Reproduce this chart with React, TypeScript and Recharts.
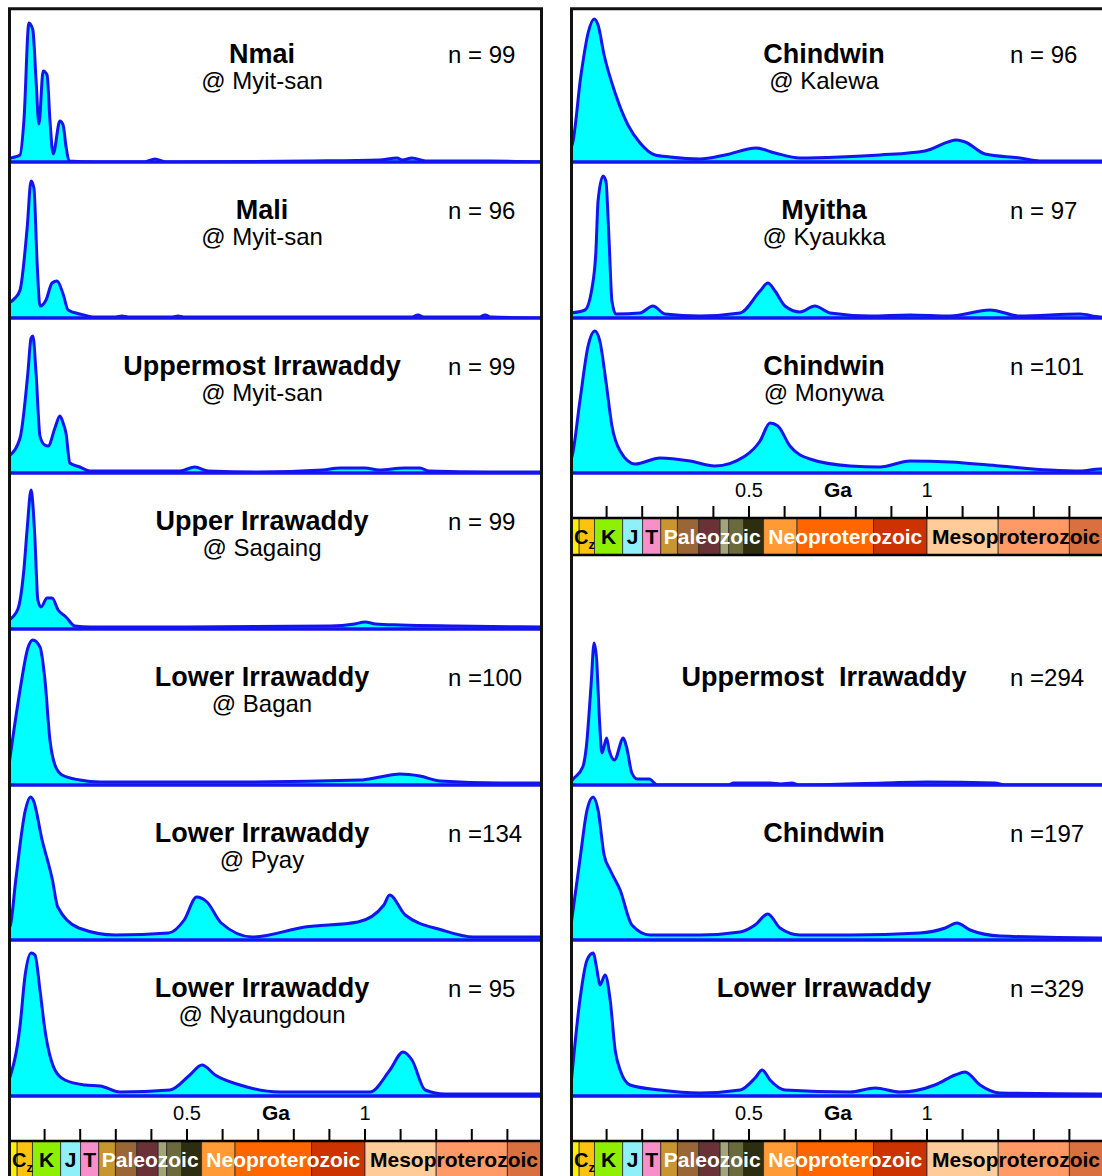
import React from 'react';
import { AreaChart, Area, XAxis, YAxis, ReferenceLine, ReferenceArea } from 'recharts';

const FONT = '"Liberation Sans", Arial, Helvetica, sans-serif';
const BLUE = '#1414ee';
const CYAN = '#00ffff';

// relative probability curves, [age in Ma, height]
const nmaiMyitsan = [[0, 3], [6, 4], [31, 7], [42, 42], [56, 139], [67, 132], [76, 82], [84, 38], [96, 91], [107, 87], [115, 42], [124, 8], [143, 41], [152, 37], [160, 16], [169, 1], [240, 0], [380, 0], [410, 3], [440, 0], [840, 1], [1040, 2], [1090, 4], [1105, 2], [1132, 4], [1170, 1], [1350, 1], [1500, 0]];
const maliMyitsan = [[0, 15], [17, 20], [31, 28], [51, 90], [62, 137], [70, 130], [79, 55], [87, 12], [104, 18], [121, 35], [135, 37], [152, 24], [166, 8], [199, 4], [242, 1], [300, 1], [317, 2], [335, 1], [460, 1], [475, 2], [490, 1], [1130, 1], [1149, 3], [1165, 1], [1320, 1], [1337, 3], [1355, 1], [1500, 0]];
const uppermostMyitsan = [[0, 17], [31, 35], [53, 100], [62, 135], [67, 137], [76, 100], [87, 37], [100, 28], [110, 27], [129, 45], [143, 57], [152, 50], [160, 40], [171, 10], [199, 6], [228, 2], [480, 2], [522, 6], [560, 2], [700, 1], [880, 3], [930, 5], [1000, 5], [1040, 3], [1110, 5], [1154, 5], [1180, 2], [1350, 1], [1500, 1]];
const upperSagaing = [[0, 9], [25, 20], [42, 60], [51, 100], [62, 139], [68, 120], [73, 89], [81, 29], [90, 22], [107, 31], [121, 31], [138, 19], [160, 12], [185, 3], [228, 2], [500, 2], [902, 3], [970, 5], [1000, 7], [1030, 5], [1100, 4], [1250, 3], [1500, 2]];
const lowerBagan = [[0, 20], [31, 95], [53, 137], [67, 145], [87, 138], [101, 105], [115, 45], [129, 20], [149, 10], [199, 5], [256, 3], [600, 3], [986, 5], [1042, 8], [1098, 11], [1154, 9], [1211, 4], [1379, 2], [1500, 2]];
const lowerPyay = [[0, 12], [4, 15], [19, 60], [46, 130], [60, 143], [68, 140], [93, 100], [122, 60], [137, 33], [196, 12], [300, 5], [448, 7], [492, 20], [527, 43], [556, 38], [596, 17], [684, 3], [831, 13], [980, 18], [1053, 35], [1069, 45], [1113, 25], [1216, 10], [1305, 3], [1438, 3], [1500, 3]];
const lowerNyaungdoun = [[0, 16], [31, 70], [45, 120], [62, 143], [73, 141], [87, 106], [101, 66], [129, 26], [157, 16], [213, 11], [256, 10], [312, 4], [452, 6], [508, 21], [542, 31], [579, 21], [649, 11], [761, 4], [1014, 4], [1070, 26], [1107, 44], [1132, 36], [1169, 6], [1225, 2], [1500, 2]];

const chindwinKalewa = [[0, 15], [3, 17], [28, 87], [48, 129], [65, 143], [76, 137], [93, 107], [124, 69], [160, 37], [194, 19], [236, 7], [278, 5], [362, 3], [433, 7], [520, 14], [573, 9], [643, 4], [756, 5], [868, 7], [994, 11], [1084, 22], [1107, 20], [1163, 8], [1261, 4], [1317, 1], [1500, 1]];
const myithaKyaukka = [[0, 5], [39, 8], [59, 30], [70, 67], [76, 117], [90, 142], [98, 137], [107, 77], [115, 17], [126, 4], [194, 5], [230, 12], [264, 4], [362, 2], [475, 5], [531, 27], [553, 35], [573, 27], [601, 12], [643, 6], [685, 12], [728, 5], [840, 2], [952, 3], [1065, 2], [1177, 8], [1261, 2], [1430, 4], [1486, 1], [1500, 1]];
const chindwinMonywa = [[0, 14], [3, 17], [25, 72], [48, 127], [67, 142], [81, 132], [98, 92], [115, 47], [138, 22], [180, 9], [250, 15], [334, 12], [404, 7], [489, 17], [531, 32], [559, 50], [581, 47], [615, 27], [671, 14], [784, 7], [868, 6], [952, 12], [1065, 11], [1205, 7], [1345, 3], [1430, 2], [1486, 4], [1500, 4]];
const uppermostAll = [[0, 3], [4, 5], [33, 18], [43, 38], [56, 98], [65, 142], [72, 125], [80, 65], [87, 32], [100, 47], [107, 35], [122, 25], [147, 47], [156, 38], [171, 12], [186, 6], [220, 6], [242, 0], [440, 0], [457, 2], [560, 2], [590, 1], [620, 2], [640, 0], [880, 2], [1000, 3], [1190, 2], [1220, 0], [1500, 0]];
const chindwinAll = [[0, 15], [25, 80], [45, 130], [62, 143], [76, 130], [93, 85], [110, 70], [138, 50], [171, 15], [222, 5], [362, 5], [475, 8], [517, 15], [553, 26], [587, 12], [643, 5], [784, 5], [980, 7], [1051, 12], [1084, 17], [1121, 10], [1205, 4], [1486, 2], [1500, 2]];
const lowerAll = [[0, 11], [25, 96], [45, 136], [62, 143], [73, 126], [81, 111], [96, 121], [110, 96], [124, 46], [138, 26], [166, 11], [250, 6], [362, 3], [475, 6], [517, 18], [537, 26], [559, 16], [601, 6], [784, 4], [854, 8], [924, 4], [1022, 11], [1079, 21], [1107, 24], [1149, 11], [1205, 3], [1486, 2], [1500, 2]];

const leftTitles = ['Nmai', 'Mali', 'Uppermost Irrawaddy', 'Upper Irrawaddy', 'Lower Irrawaddy', 'Lower Irrawaddy', 'Lower Irrawaddy'];
const leftSites = ['@ Myit-san', '@ Myit-san', '@ Myit-san', '@ Sagaing', '@ Bagan', '@ Pyay', '@ Nyaungdoun'];
const leftCounts = ['n = 99', 'n = 96', 'n = 99', 'n = 99', 'n =100', 'n =134', 'n = 95'];
const leftSeries = [nmaiMyitsan, maliMyitsan, uppermostMyitsan, upperSagaing, lowerBagan, lowerPyay, lowerNyaungdoun];

const rightTitles = ['Chindwin', 'Myitha', 'Chindwin', 'Uppermost  Irrawaddy', 'Chindwin', 'Lower Irrawaddy'];
const rightSites = ['@ Kalewa', '@ Kyaukka', '@ Monywa', '', '', ''];
const rightCounts = ['n = 96', 'n = 97', 'n =101', 'n =294', 'n =197', 'n =329'];
const rightSeries = [chindwinKalewa, myithaKyaukka, chindwinMonywa, uppermostAll, chindwinAll, lowerAll];

// time scale (Ma)
const gaTicks = [100, 200, 300, 400, 500, 600, 700, 800, 900, 1000, 1100, 1200, 1300, 1400];
const periodBounds = [0, 23, 66, 145, 201, 252, 299, 359, 419, 443, 485, 541, 635, 850, 1000, 1200, 1400, 1500];
const periodColors = ['#fff000', '#ffc20e', '#8cf000', '#8ff0fa', '#f78fca', '#c9952f', '#9a6638', '#6a3236', '#a3a47a', '#6b6a3c', '#2d2d10', '#ff9a35', '#ff6600', '#cc3300', '#ffcc99', '#ff9966', '#d9703f'];
const eraNames = ['Cz', 'K', 'J', 'T', 'Paleozoic', 'Neoproterozoic', 'Mesoproterozoic'];
const eraBounds = [0, 66, 145, 201, 252, 541, 1000, 1500];
const eraTextColors = ['#000', '#000', '#000', '#000', '#fff', '#fff', '#000'];

const LEFT_X = 9;
const RIGHT_X = 571;
const PLOT_W = 534;
const ROW = 155.67;
const leftBaselines = leftSeries.map((_, i) => 162 + i * ROW);
const rightBaselines = [162, 162 + ROW, 162 + 2 * ROW, 162 + 4 * ROW, 162 + 5 * ROW, 162 + 6 * ROW];

const toRows = (pts: number[][]) => pts.map(([age, p]) => ({ age, p }));

function Spectrum({ data, left, baseline }: { data: number[][]; left: number; baseline: number }) {
  return (
    <div style={{ position: 'absolute', left, top: baseline - 154 }}>
      <AreaChart width={PLOT_W} height={157} data={toRows(data)} margin={{ top: 0, right: 0, bottom: 3, left: 0 }}>
        <XAxis dataKey="age" type="number" domain={[0, 1500]} hide allowDataOverflow />
        <YAxis type="number" domain={[0, 154]} hide allowDataOverflow />
        <Area type="monotone" dataKey="p" stroke={BLUE} strokeWidth={3} fill={CYAN} fillOpacity={1} dot={false} activeDot={false} isAnimationActive={false} />
        <ReferenceLine y={0} stroke={BLUE} strokeWidth={3.5} />
      </AreaChart>
    </div>
  );
}

function CzLabel(props: any) {
  const vb = props.viewBox || {};
  const cy = vb.y + vb.height / 2;
  return (
    <text x={vb.x + 3} y={cy + 7} textAnchor="start" fontFamily={FONT} fontWeight="bold" fontSize={20} fill="#000">
      C<tspan fontSize={13} dy={5}>z</tspan>
    </text>
  );
}

const scaleRows = [{ age: 0, v: 0 }, { age: 1500, v: 1 }];

function GeoScale({ left, barTop }: { left: number; barTop: number }) {
  return (
    <div style={{ position: 'absolute', left, top: barTop - 50 }}>
      <AreaChart width={PLOT_W} height={89} data={scaleRows} margin={{ top: 0, right: 0, bottom: 2, left: 0 }}>
        <XAxis
          dataKey="age"
          type="number"
          orientation="top"
          domain={[0, 1500]}
          ticks={gaTicks}
          interval={0}
          height={50}
          tickSize={12}
          tickMargin={9}
          allowDataOverflow
          axisLine={{ stroke: '#000', strokeWidth: 2.5 }}
          tickLine={{ stroke: '#000', strokeWidth: 2 }}
          tick={{ fill: '#000', fontSize: 20, fontFamily: FONT }}
          tickFormatter={(v: number) => (v === 500 ? '0.5' : v === 1000 ? '1' : '')}
        />
        <YAxis type="number" domain={[0, 1]} hide allowDataOverflow />
        <Area dataKey="v" stroke="none" fill="none" dot={false} activeDot={false} isAnimationActive={false} />
        {periodColors.map((c, i) => (
          <ReferenceArea key={'p' + i} x1={periodBounds[i]} x2={periodBounds[i + 1]} y1={0} y2={1} fill={c} fillOpacity={1} stroke="#2a2a2a" strokeWidth={0.8} ifOverflow="extendDomain" />
        ))}
        {eraNames.map((name, i) => (
          <ReferenceArea
            key={'e' + i}
            x1={eraBounds[i]}
            x2={eraBounds[i + 1]}
            y1={0}
            y2={1}
            fill="none"
            stroke="none"
            ifOverflow="extendDomain"
            label={
              name === 'Cz'
                ? CzLabel
                : { value: name, position: 'center', fill: eraTextColors[i], fontSize: 21, fontWeight: 'bold', fontFamily: FONT }
            }
          />
        ))}
        <ReferenceLine x={750} stroke="none" ifOverflow="extendDomain" label={{ value: 'Ga', position: 'top', offset: 21, fill: '#000', fontSize: 21, fontWeight: 'bold', fontFamily: FONT }} />
        <ReferenceLine y={0} stroke="#000" strokeWidth={2.5} ifOverflow="extendDomain" />
      </AreaChart>
    </div>
  );
}

function Captions({ titles, sites, counts, baselines, cx, nx }: { titles: string[]; sites: string[]; counts: string[]; baselines: number[]; cx: number; nx: number }) {
  return (
    <>
      {titles.map((t, i) => (
        <g key={t + i} fontFamily={FONT} fill="#000">
          <text x={cx} y={baselines[i] - 98.7} textAnchor="middle" fontWeight="bold" fontSize={27} style={{ whiteSpace: 'pre' }}>{t}</text>
          {sites[i] && <text x={cx} y={baselines[i] - 72.7} textAnchor="middle" fontSize={24}>{sites[i]}</text>}
          <text x={nx} y={baselines[i] - 98.7} fontSize={24} style={{ whiteSpace: 'pre' }}>{counts[i]}</text>
        </g>
      ))}
    </>
  );
}

export default function App() {
  return (
    <div style={{ position: 'absolute', left: 0, top: 0, width: 1102, height: 1176, overflow: 'hidden', background: '#fff' }}>
      {leftSeries.map((d, i) => (
        <Spectrum key={'l' + i} data={d} left={LEFT_X} baseline={leftBaselines[i]} />
      ))}
      {rightSeries.map((d, i) => (
        <Spectrum key={'r' + i} data={d} left={RIGHT_X} baseline={rightBaselines[i]} />
      ))}
      <GeoScale left={LEFT_X} barTop={leftBaselines[6] + 44.5} />
      <GeoScale left={RIGHT_X} barTop={rightBaselines[2] + 44.5} />
      <GeoScale left={RIGHT_X} barTop={rightBaselines[5] + 44.5} />
      <svg width={1102} height={1176} style={{ position: 'absolute', left: 0, top: 0, pointerEvents: 'none' }}>
        <Captions titles={leftTitles} sites={leftSites} counts={leftCounts} baselines={leftBaselines} cx={262} nx={448} />
        <Captions titles={rightTitles} sites={rightSites} counts={rightCounts} baselines={rightBaselines} cx={824} nx={1010} />
        <g stroke="#111" strokeWidth={3} fill="none">
          <line x1={8} y1={8.7} x2={543} y2={8.7} />
          <line x1={9.5} y1={8} x2={9.5} y2={1176} />
          <line x1={541.5} y1={8} x2={541.5} y2={1176} />
          <line x1={570} y1={8.7} x2={1102} y2={8.7} />
          <line x1={571.5} y1={8} x2={571.5} y2={1176} />
        </g>
      </svg>
    </div>
  );
}
